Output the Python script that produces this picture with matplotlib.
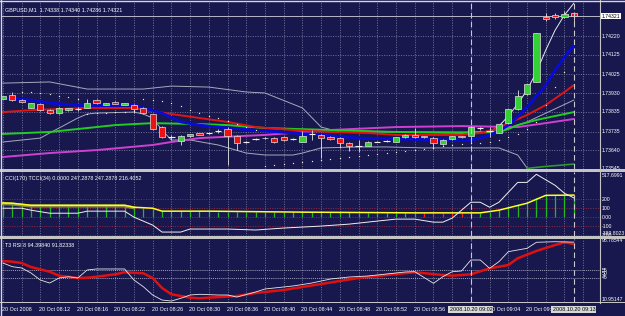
import matplotlib
matplotlib.use('Agg')
import matplotlib.pyplot as plt
import matplotlib.transforms as mtransforms

# ---------------- data ----------------
opens = [1.73900, 1.73921, 1.73895, 1.73856, 1.73873, 1.73847, 1.73828, 1.73844, 1.73850, 1.73856,
         1.73895, 1.73870, 1.73885, 1.73871, 1.73870, 1.73856, 1.73823, 1.73760, 1.73706, 1.73689,
         1.73712, 1.73726, 1.73726, 1.73738, 1.73746, 1.73714, 1.73683, 1.73697, 1.73700, 1.73704,
         1.73709, 1.73697, 1.73683, 1.73723, 1.73718, 1.73709, 1.73704, 1.73678, 1.73662, 1.73663,
         1.73683, 1.73687, 1.73683, 1.73706, 1.73718, 1.73712, 1.73704, 1.73670, 1.73696, 1.73712,
         1.73712, 1.73751, 1.73738, 1.73729, 1.73777, 1.73848, 1.73926, 1.73988, 1.74316, 1.74327,
         1.74318, 1.74338]
highs = [1.73918, 1.73936, 1.73898, 1.73880, 1.73876, 1.73850, 1.73858, 1.73857, 1.73860, 1.73900,
         1.73898, 1.73880, 1.73888, 1.73882, 1.73873, 1.73858, 1.73825, 1.73762, 1.73718, 1.73716,
         1.73723, 1.73729, 1.73729, 1.73746, 1.73760, 1.73716, 1.73688, 1.73700, 1.73706, 1.73707,
         1.73712, 1.73704, 1.73738, 1.73743, 1.73721, 1.73712, 1.73707, 1.73681, 1.73692, 1.73686,
         1.73686, 1.73690, 1.73709, 1.73721, 1.73753, 1.73715, 1.73707, 1.73695, 1.73715, 1.73715,
         1.73763, 1.73760, 1.73760, 1.73775, 1.73851, 1.73946, 1.73979, 1.74237, 1.74338, 1.74335,
         1.74347, 1.74340]
lows = [1.73898, 1.73890, 1.73884, 1.73854, 1.73840, 1.73826, 1.73826, 1.73842, 1.73839, 1.73854,
        1.73875, 1.73868, 1.73873, 1.73869, 1.73829, 1.73825, 1.73745, 1.73703, 1.73692, 1.73667,
        1.73710, 1.73716, 1.73723, 1.73729, 1.73565, 1.73641, 1.73678, 1.73693, 1.73697, 1.73677,
        1.73688, 1.73691, 1.73680, 1.73692, 1.73601, 1.73693, 1.73652, 1.73636, 1.73633, 1.73660,
        1.73680, 1.73684, 1.73680, 1.73703, 1.73703, 1.73703, 1.73652, 1.73667, 1.73693, 1.73703,
        1.73709, 1.73745, 1.73709, 1.73726, 1.73774, 1.73845, 1.73923, 1.73985, 1.74298, 1.74305,
        1.74310, 1.74286]
closes = [1.73915, 1.73895, 1.73887, 1.73878, 1.73843, 1.73829, 1.73856, 1.73855, 1.73850, 1.73878,
          1.73878, 1.73878, 1.73875, 1.73879, 1.73848, 1.73828, 1.73748, 1.73706, 1.73706, 1.73714,
          1.73721, 1.73718, 1.73726, 1.73738, 1.73714, 1.73675, 1.73683, 1.73697, 1.73702, 1.73680,
          1.73691, 1.73697, 1.73714, 1.73723, 1.73704, 1.73696, 1.73675, 1.73663, 1.73662, 1.73683,
          1.73683, 1.73687, 1.73706, 1.73718, 1.73706, 1.73706, 1.73675, 1.73692, 1.73712, 1.73706,
          1.73760, 1.73751, 1.73738, 1.73772, 1.73848, 1.73915, 1.73976, 1.74234, 1.74309, 1.74315,
          1.74332, 1.74321]

blue_idx = [0, 3, 5, 9, 14, 15, 17, 19, 21, 24, 28, 34, 38, 42, 49, 50, 51, 52, 53, 54, 55, 56, 57, 58, 59, 60, 61]
blue_val = [1.73905, 1.73895, 1.73880, 1.73865, 1.73870, 1.73855, 1.73829, 1.73784, 1.73768, 1.73753,
            1.73738, 1.73718, 1.73702, 1.73697, 1.73692, 1.73692, 1.73702, 1.73718, 1.73738, 1.73768,
            1.73809, 1.73860, 1.73915, 1.73971, 1.74047, 1.74113, 1.74174]
red_idx = [0, 3, 9, 14, 16, 18, 21, 24, 27, 31, 35, 39, 42, 49, 51, 53, 54, 56, 58, 60, 61]
red_val = [1.73834, 1.73844, 1.73855, 1.73855, 1.73839, 1.73824, 1.73804, 1.73784, 1.73758, 1.73743,
           1.73733, 1.73728, 1.73718, 1.73718, 1.73728, 1.73753, 1.73778, 1.73819, 1.73870, 1.73936, 1.73971]
green_idx = [0, 5, 9, 12, 16, 21, 24, 28, 35, 42, 49, 53, 54, 55, 57, 59, 61]
green_val = [1.73723, 1.73733, 1.73753, 1.73768, 1.73778, 1.73773, 1.73768, 1.73753, 1.73743, 1.73733,
             1.73728, 1.73733, 1.73748, 1.73768, 1.73794, 1.73814, 1.73834]
mag_idx = [0, 5, 10, 16, 18, 21, 28, 35, 42, 49, 55, 58, 61]
mag_val = [1.73606, 1.73626, 1.73641, 1.73667, 1.73682, 1.73702, 1.73718, 1.73743, 1.73758, 1.73763,
           1.73758, 1.73778, 1.73799]
bbup_idx = [0, 5, 9, 15, 18, 22, 26, 28, 32, 34, 36, 50, 53, 56, 61]
bbup_val = [1.73981, 1.73987, 1.73951, 1.73951, 1.73966, 1.73961, 1.73936, 1.73931, 1.73855, 1.73758,
            1.73733, 1.73733, 1.73738, 1.73784, 1.73895]
fast_idx = [52, 53, 54, 55, 56, 57, 58, 59, 60, 61]
fast_val = [1.73733, 1.73763, 1.73814, 1.73875, 1.73946, 1.74037, 1.74149, 1.74250, 1.74327, 1.74387]
bbdn_idx = [0, 4, 5, 6, 8, 9, 10, 14, 15, 16, 17, 18, 20, 23, 26, 28, 31, 32, 34, 38, 41, 45, 49, 53, 55, 56, 58]
bbdn_val = [1.73682, 1.73702, 1.73728, 1.73753, 1.73804, 1.73824, 1.73829, 1.73834, 1.73824, 1.73804,
            1.73743, 1.73692, 1.73692, 1.73667, 1.73626, 1.73616, 1.73616, 1.73626, 1.73652, 1.73657,
            1.73657, 1.73652, 1.73652, 1.73652, 1.73616, 1.73550, 1.73479]
dkg_idx = [56, 58, 61]
dkg_val = [1.73548, 1.73558, 1.73570]
sar_idx = list(range(2, 62))
sar_val = [1.73936, 1.73936, 1.73931, 1.73926, 1.73915, 1.73910, 1.73900,
           1.73824, 1.73827, 1.73829, 1.73832, 1.73834, 1.73837,
           1.73900, 1.73895, 1.73890, 1.73880, 1.73865, 1.73844, 1.73829, 1.73814, 1.73804, 1.73789,
           1.73773, 1.73758, 1.73743,
           1.73560, 1.73565, 1.73570, 1.73575, 1.73580, 1.73586, 1.73591, 1.73596, 1.73601, 1.73606,
           1.73611, 1.73616, 1.73621, 1.73626, 1.73631, 1.73636, 1.73641, 1.73646, 1.73652, 1.73662,
           1.73667, 1.73672, 1.73677, 1.73677, 1.73682, 1.73692, 1.73707, 1.73723, 1.73748, 1.73784,
           1.73870, 1.73961, 1.74037, 1.74108]

price_ticks = [1.74220, 1.74125, 1.74025, 1.73930, 1.73835, 1.73735, 1.73640, 1.73545]
bid = 1.74321

cci_idx = [0, 2, 3, 5, 8, 9, 13, 14, 16, 17, 19, 20, 22, 24, 27, 30, 34, 37, 40, 42, 44, 46, 47, 48,
           50, 51, 52, 53, 55, 56, 57, 59, 60, 61]
cci_val = [100, 100, 78, 44, 44, 67, 67, 0, -89, -167, -167, -133, -133, -133, -144, -122, -100, -78,
           -44, -22, -22, -56, -56, -11, 167, 167, 111, 167, 389, 389, 480, 356, 267, 216]
tcci_idx = [0, 1, 3, 13, 14, 16, 17, 22, 32, 44, 51, 53, 56, 58, 61]
tcci_val = [159, 156, 133, 133, 111, 100, 67, 67, 56, 48, 48, 78, 156, 244, 247]
tcci2_idx = [0, 1, 3, 13, 14]
tcci2_val = [150, 146, 124, 124, 104]
hist_val = [155, 150, 145] + [133] * 11 + [111, 105, 95] + [67] * 6 + \
           [62, 62, 61, 60, 60, 59, 58, 57, 56] + \
           [55, 55, 54, 54, 53, 53, 52, 51, 50, 50, 49, 49, 48] + [48] * 6 + \
           [50, 56, 78, 111, 133, 156, 211, 244, 245, 246, 247]
hist_down = list(range(45, 51))
cci_levels = [200, 100, 0, -100, -200]
cci_labels = ['200', '100', '0.00', '-100', '-200']

rsi_w_idx = [0, 1, 2, 3, 4, 5, 6, 7, 8, 9, 10, 13, 14, 15, 16, 17, 18, 19, 20, 21, 23, 24, 25, 27, 28,
             31, 33, 35, 37, 39, 41, 43, 44, 46, 47, 48, 49, 50, 51, 52, 53, 54, 56, 57, 59, 61]
rsi_w_val = [65.3, 60.2, 58.4, 51.4, 41.6, 37.4, 44.4, 46.2, 44.4, 55.6, 57.0, 57.0, 41.6, 32.3, 20.7,
             13.7, 12.3, 16.1, 20.7, 21.7, 20.7, 20.7, 17.9, 24.9, 29.1, 33.3, 37.4, 43.0, 45.8, 47.2,
             50.0, 52.8, 53.2, 37.0, 46.2, 53.2, 54.2, 69.5, 69.5, 57.9, 67.2, 81.1, 85.8, 94.2, 95.0, 94.4]
rsi_r_idx = [0, 1, 2, 3, 5, 6, 8, 9, 10, 12, 13, 15, 16, 17, 18, 20, 21, 22, 25, 27, 30, 32, 34, 36,
             38, 40, 42, 44, 47, 48, 50, 52, 54, 55, 57, 59, 60, 61]
rsi_r_val = [68.1, 67.2, 65.3, 59.7, 53.2, 47.6, 44.4, 44.8, 46.2, 49.6, 52.4, 51.0, 44.4, 30.5, 21.7,
             17.0, 16.1, 17.0, 19.3, 23.5, 27.7, 31.9, 36.0, 40.3, 44.4, 47.2, 50.0, 52.4, 48.6, 47.6,
             49.6, 57.9, 62.5, 71.9, 82.1, 90.4, 94.2, 91.8]
rsi_levels = [55, 45]
rsi_max, rsi_min = 98.78544, 10.95147

time_idx = [0, 4, 8, 12, 16, 20, 24, 28, 32, 36, 40, 44, 52, 56]
time_lbl = ['20 Oct 2008', '20 Oct 08:12', '20 Oct 08:16', '20 Oct 08:22', '20 Oct 08:26',
            '20 Oct 08:30', '20 Oct 08:36', '20 Oct 08:40', '20 Oct 08:44', '20 Oct 08:48',
            '20 Oct 08:52', '20 Oct 08:56', '20 Oct 09:04', '20 Oct 09:08']
vline_idx = [50, 61]
vline_lbl = ['2008.10.20 09:02', '2008.10.20 09:13']

# ---------------- style ----------------
W, H = 625, 316
BG = '#18184f'
GRID = '#8c8cb0'
SEP = '#c4c4c4'
TXT = '#ffffff'
FS = 3.9
FSR = 3.7
plt.rcParams['font.family'] = ['Liberation Sans', 'DejaVu Sans']

fig = plt.figure(figsize=(W / 100, H / 100), dpi=100, facecolor=BG)


def px_axes(x0, y0, x1, y1):
    ax = fig.add_axes([x0 / W, 1 - y1 / H, (x1 - x0) / W, (y1 - y0) / H])
    ax.set_facecolor(BG)
    for s in ax.spines.values():
        s.set_visible(False)
    ax.set_xticks([])
    ax.set_yticks([])
    ax.set_xlim((2 - 2.9) / 9.36, (600 - 2.9) / 9.36)
    return ax


def vgrid(ax):
    for i in range(0, 64, 2):
        ax.axvline(i, color=GRID, lw=0.5, ls=(0, (1.5, 2.0)), zorder=0.5)


def right_label(ax, y, s, boxed=False):
    tr = mtransforms.blended_transform_factory(ax.transAxes, ax.transData)
    kw = dict(transform=tr, fontsize=FSR, color=TXT, va='center', ha='left', clip_on=False)
    if boxed:
        kw.update(color='#000000', bbox=dict(boxstyle='square,pad=0.15', fc='#ffffff', ec='none'))
    ax.text(1.003, y, s, **kw)


# ---------------- main price panel ----------------
ax = px_axes(2, 2, 600, 169)
ax.set_ylim(1.73545, 1.74393)
vgrid(ax)
for p in price_ticks[:-1]:
    ax.axhline(p, color=GRID, lw=0.5, ls=(0, (1.5, 2.0)), zorder=0.5)
ax.axhline(bid, color='#b8b8c8', lw=0.7, zorder=1)

ax.plot(bbup_idx, bbup_val, color='#a8a8bc', lw=0.7, zorder=2)
ax.plot(bbdn_idx, bbdn_val, color='#a8a8bc', lw=0.7, zorder=2)
ax.plot(fast_idx, fast_val, color='#e8e8f0', lw=0.7, zorder=2)
ax.plot(dkg_idx, dkg_val, color='#2a9a2a', lw=1.2, zorder=2)
ax.plot(mag_idx, mag_val, color='#d040d0', lw=1.4, zorder=2)
ax.plot(green_idx, green_val, color='#22cc22', lw=1.4, zorder=2)
ax.plot(red_idx, red_val, color='#dd1515', lw=1.4, zorder=2)
ax.plot(blue_idx, blue_val, color='#0a0ad8', lw=2.0, zorder=2)

for i, (o, h, l, c) in enumerate(zip(opens, highs, lows, closes)):
    ax.vlines(i, l, h, color='#e4e4e4', lw=0.6, zorder=3)
    if abs(c - o) < 1e-9:
        ax.hlines(o, i - 0.34, i + 0.34, color='#f0f0f0', lw=0.8, zorder=4)
    else:
        fc = '#33d133' if c > o else '#ee1111'
        ax.bar(i, abs(c - o), bottom=min(o, c), width=0.66, color=fc,
               edgecolor='#e0e0e0', linewidth=0.5, zorder=4)

ax.scatter(sar_idx, sar_val, s=0.9, color='#f0f0e0', zorder=5, linewidths=0)

for p in price_ticks:
    right_label(ax, p, f'{p:.5f}')
right_label(ax, bid, f'{bid:.5f}', boxed=True)
ax.text(0.005, 0.97, 'GBPUSD,M1  1.74338 1.74340 1.74286 1.74321', transform=ax.transAxes,
        fontsize=FS, color=TXT, va='top', ha='left')

# ---------------- CCI panel ----------------
axc = px_axes(2, 171.5, 600, 236)
axc.set_ylim(-211.1, 511.1)
vgrid(axc)
for lv in cci_levels:
    axc.axhline(lv, color='#b03040', lw=0.5, ls=(0, (1.5, 2.0)), zorder=0.5)
for i, v in enumerate(hist_val):
    col = '#ee2222' if i in hist_down else '#22b822'
    axc.vlines(i, 0, v, color=col, lw=0.9, zorder=2)
axc.plot(tcci2_idx, tcci2_val, color='#8c8c40', lw=2.2, zorder=2.5)
axc.plot(tcci_idx, tcci_val, color='#ffff20', lw=1.1, zorder=3)
axc.plot(cci_idx, cci_val, color='#f0f0f0', lw=0.7, zorder=4)
axc.text(0.005, 0.93, 'CCI(170) TCCI(34) 0.0000 247.2878 247.2878 216.4052', transform=axc.transAxes,
         fontsize=FS, color=TXT, va='top', ha='left')
for lv, lb in zip(cci_levels, cci_labels):
    right_label(axc, lv, lb)
right_label(axc, 465, '517.6991')
right_label(axc, -185, '-389.8023')

# ---------------- RSI panel ----------------
axr = px_axes(2, 239, 600, 302)
axr.set_ylim(rsi_min, rsi_max)
vgrid(axr)
for lv in rsi_levels:
    axr.axhline(lv, color='#d0d0e0', lw=0.5, ls=(0, (1.5, 1.5)), zorder=0.5)
axr.plot(rsi_r_idx, rsi_r_val, color='#e01010', lw=1.8, zorder=2)
axr.plot(rsi_w_idx, rsi_w_val, color='#e8e8e8', lw=0.6, zorder=3)
axr.text(0.005, 0.93, 'T3 RSI 8 94.39840 91.82338', transform=axr.transAxes,
         fontsize=FS, color=TXT, va='top', ha='left')
right_label(axr, 96.0, f'{rsi_max:.5f}')
right_label(axr, 14.0, f'{rsi_min:.5f}')
for lv in [55, 50, 45]:
    right_label(axr, lv, str(lv))

# ---------------- object lines & separators ----------------
for a in (ax, axc, axr):
    for v in vline_idx:
        a.axvline(v, color='#c8c8d0', lw=0.8, ls=(0, (5, 3)), zorder=6)

axt = px_axes(2, 303, 600, 316)
axt.set_ylim(0, 1)
for i, s in zip(time_idx, time_lbl):
    axt.text(i - 0.1, 0.5, s, fontsize=FS, color=TXT, va='center', ha='left', zorder=2)
for i, s in zip(vline_idx, vline_lbl):
    axt.text(i, 0.5, s, fontsize=FS, color='#000000', va='center', ha='center', zorder=5,
             bbox=dict(boxstyle='square,pad=0.2', fc='#d8d8d8', ec='none'))

sep = fig.add_axes([0, 0, 1, 1], facecolor='none')
sep.set_xlim(0, W)
sep.set_ylim(H, 0)
sep.axis('off')
for y0, y1 in [(169, 171.5), (236, 238.5), (302, 303)]:
    sep.fill_between([0, W], y0, y1, color=SEP, lw=0)
sep.plot([600, 600], [0, 303], color=SEP, lw=0.8)
sep.plot([0.5, 0.5], [0, 316], color='#d8d8d8', lw=1.0)
sep.plot([0, W], [0.5, 0.5], color='#d8d8d8', lw=1.0)

fig.savefig('out.png', dpi=100, facecolor=BG)
